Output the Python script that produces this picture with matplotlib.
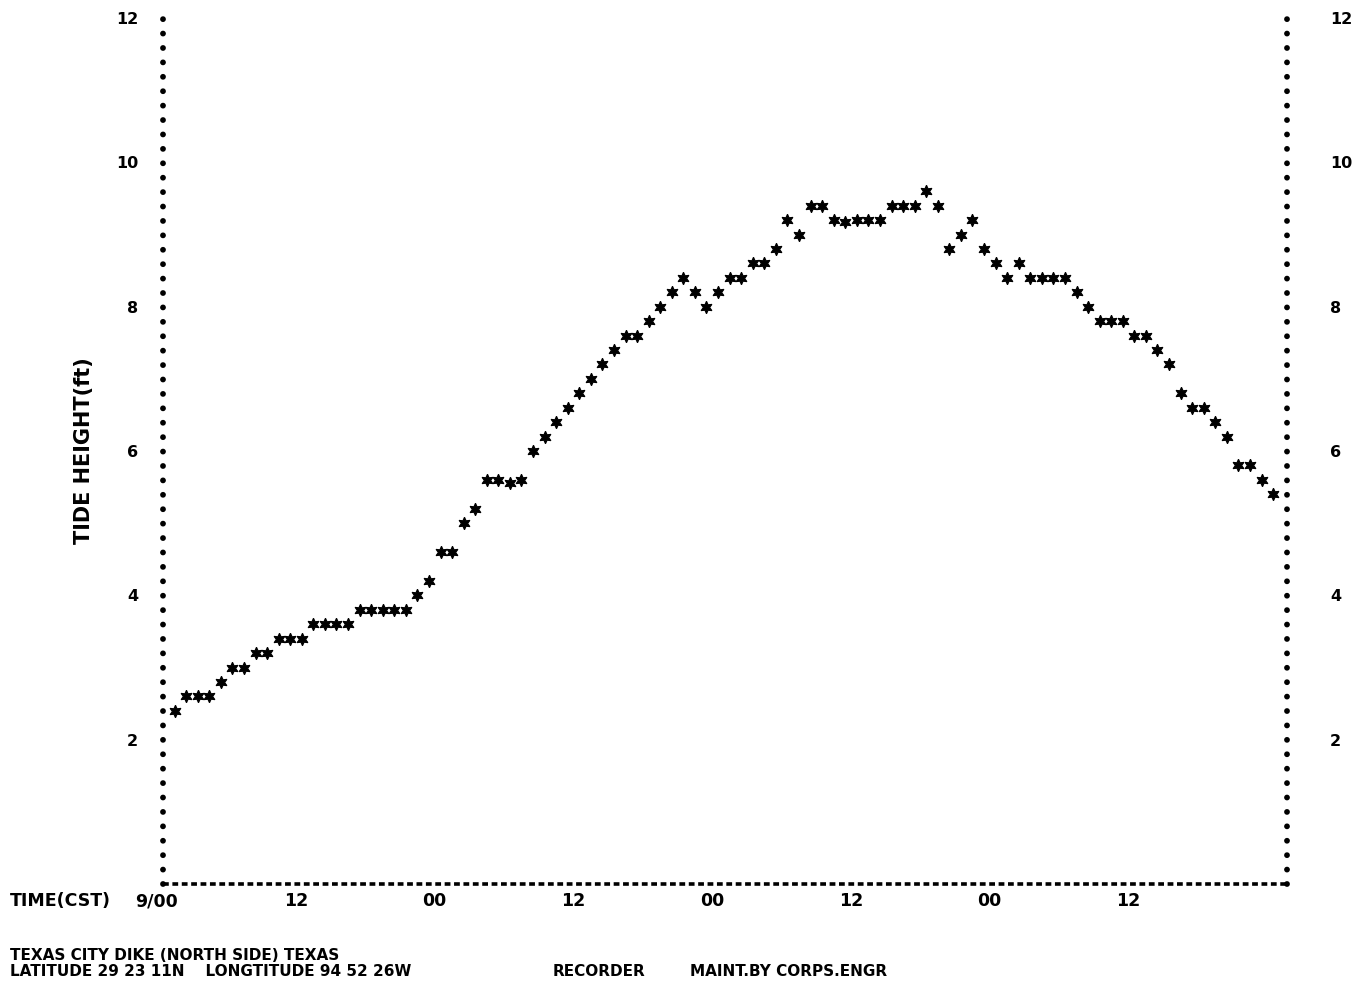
import matplotlib
matplotlib.use('Agg')
import matplotlib.pyplot as plt
import matplotlib.transforms as mtrans

# hourly tide readings (ft), hours 1..96 after 9/00 CST
tide_ft = [
    2.4, 2.6, 2.6, 2.6, 2.8, 3.0, 3.0, 3.2, 3.2, 3.4,
    3.4, 3.4, 3.6, 3.6, 3.6, 3.6, 3.8, 3.8, 3.8, 3.8,
    3.8, 4.0, 4.2, 4.6, 4.6, 5.0, 5.2, 5.6, 5.6, 5.55,
    5.6, 6.0, 6.2, 6.4, 6.6, 6.8, 7.0, 7.2, 7.4, 7.6,
    7.6, 7.8, 8.0, 8.2, 8.4, 8.2, 8.0, 8.2, 8.4, 8.4,
    8.6, 8.6, 8.8, 9.2, 9.0, 9.4, 9.4, 9.2, 9.18, 9.2,
    9.2, 9.2, 9.4, 9.4, 9.4, 9.6, 9.4, 8.8, 9.0, 9.2,
    8.8, 8.6, 8.4, 8.6, 8.4, 8.4, 8.4, 8.4, 8.2, 8.0,
    7.8, 7.8, 7.8, 7.6, 7.6, 7.4, 7.2, 6.8, 6.6, 6.6,
    6.4, 6.2, 5.8, 5.8, 5.6, 5.4,
]
hours = list(range(1, len(tide_ft) + 1))

x_ticks = [0, 12, 24, 36, 48, 60, 72, 84]
x_labels = ['9/00', '12', '00', '12', '00', '12', '00', '12']
y_ticks = [2, 4, 6, 8, 10, 12]

FONT = dict(family='DejaVu Sans', fontweight='bold', fontsize=12.5)
TICKFONT = dict(family='DejaVu Sans', fontweight='bold', fontsize=11.5)
FOOTFONT = dict(family='DejaVu Sans', fontweight='bold', fontsize=11)

fig = plt.figure(figsize=(13.66, 9.85), dpi=100)
ax = fig.add_axes([163 / 1366, 101 / 985, (1287 - 163) / 1366, (884 - 18) / 985])

ax.plot(hours, tide_ft, linestyle='none', marker=(6, 1, 0), ms=9,
        color='black', markeredgewidth=0.8)

ax.set_xlim(0, 97.2)
ax.set_ylim(0, 12)

# printer-style frame: dotted verticals, dashed baseline, no top
ax.spines['top'].set_visible(False)
for side in ('left', 'right'):
    sp = ax.spines[side]
    sp.set_linewidth(4.2)
    sp.set_linestyle((0, (0.001, 2.47)))
    sp.set_capstyle('round')
sp = ax.spines['bottom']
sp.set_linewidth(2.6)
sp.set_linestyle((0, (1.6, 1.0)))
sp.set_capstyle('butt')

ax.set_xticks(x_ticks)
ax.set_xticklabels(x_labels, **FONT)
ax.set_yticks(y_ticks)
ax.set_yticklabels([str(v) for v in y_ticks], **TICKFONT)
ax.tick_params(axis='both', length=0)
ax.tick_params(axis='x', pad=6)
ax.tick_params(axis='y', pad=18)
shift = mtrans.ScaledTranslation(-6 / 100, 0, fig.dpi_scale_trans)
for lab in ax.get_xticklabels():
    lab.set_transform(lab.get_transform() + shift)

# right-hand height labels
ax2 = ax.twinx()
ax2.set_ylim(0, 12)
ax2.set_yticks(y_ticks)
ax2.set_yticklabels([str(v) for v in y_ticks], **TICKFONT)
ax2.tick_params(axis='y', length=0, pad=31)
for s in ax2.spines.values():
    s.set_visible(False)

ax.set_ylabel('TIDE HEIGHT(ft)', family='DejaVu Sans', fontweight='bold',
              fontsize=15, labelpad=16)

fig.text(10 / 1366, 1 - 901 / 985, 'TIME(CST)', va='center', ha='left', **FONT)
fig.text(10 / 1366, 1 - 955 / 985, 'TEXAS CITY DIKE (NORTH SIDE) TEXAS',
         va='center', ha='left', **FOOTFONT)
fig.text(10 / 1366, 1 - 972 / 985, 'LATITUDE 29 23 11N    LONGTITUDE 94 52 26W',
         va='center', ha='left', **FOOTFONT)
fig.text(553 / 1366, 1 - 972 / 985, 'RECORDER', va='center', ha='left', **FOOTFONT)
fig.text(690 / 1366, 1 - 972 / 985, 'MAINT.BY CORPS.ENGR', va='center', ha='left', **FOOTFONT)

fig.savefig('out.png', dpi=100)
plt.close(fig)
